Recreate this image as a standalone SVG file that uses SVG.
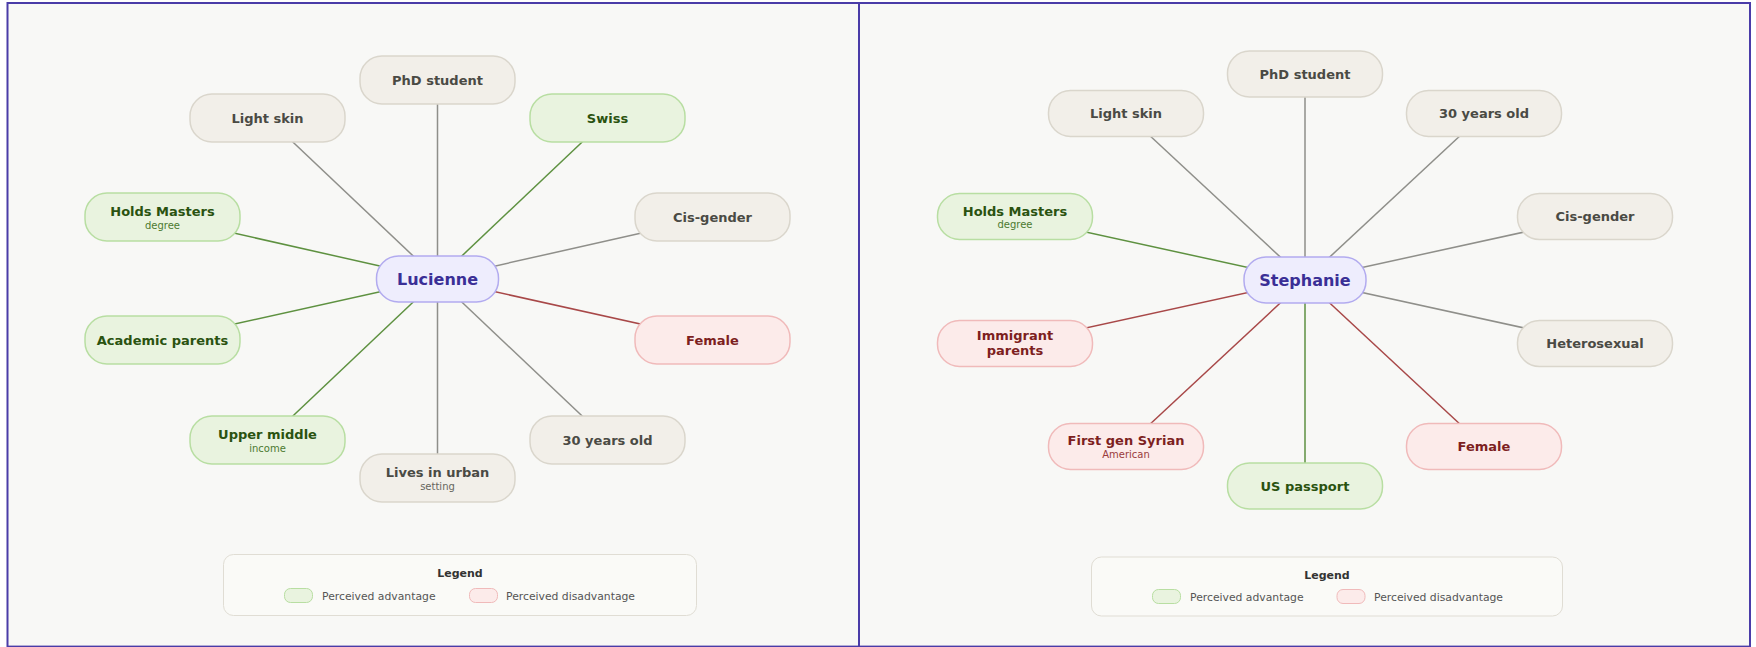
<svg xmlns="http://www.w3.org/2000/svg" width="1756" height="647" viewBox="0 0 1756 647">
<style>
.panel{fill:#f8f8f6;stroke:#4a3ca8;stroke-width:2}
.n rect{stroke-width:1.5}
.neu rect{fill:#f2efe9;stroke:#dad6cc}
.adv rect{fill:#e9f3df;stroke:#b8dea2}
.dis rect{fill:#fcebea;stroke:#f0baba}
.ctr rect{fill:#eeedfd;stroke:#b2abef}
text{font-family:"DejaVu Sans","Liberation Sans",sans-serif;text-anchor:middle}
.t{font-size:13px;font-weight:bold}
.s{font-size:10px}
.neu .t{fill:#4a4a44}.neu .s{fill:#66665e}
.adv .t{fill:#2a5210}.adv .s{fill:#4c7a30}
.dis .t{fill:#7d1f1f}.dis .s{fill:#9a3c3c}
.ctr .t{fill:#3a2f96;font-size:16px}
.c line{stroke-width:1.5}
.cg{stroke:#8f8f8a}.ca{stroke:#5e9140}.cd{stroke:#a84848}
.lg rect.box{fill:#fafaf7;stroke:#e0ddd4;stroke-width:1}
.lg .lt{font-size:11px;font-weight:bold;fill:#333}
.lg .li{font-size:10.8px;fill:#555;text-anchor:start}
.sw-a{fill:#e9f3df;stroke:#b8dea2;stroke-width:1}
.sw-d{fill:#fcebea;stroke:#f0baba;stroke-width:1}
</style>
<rect x="0" y="0" width="1756" height="647" fill="#ffffff"/>
<rect class="panel" x="7.5" y="3" width="851.5" height="643.6"/>
<rect class="panel" x="859" y="3" width="891" height="643.6"/>

<g id="connectors-left" class="c">
<line class="cg" x1="437.5" y1="279" x2="437.5" y2="80"/>
<line class="cg" x1="437.5" y1="279" x2="267.5" y2="118"/>
<line class="ca" x1="437.5" y1="279" x2="607.5" y2="118"/>
<line class="ca" x1="437.5" y1="279" x2="162.5" y2="217"/>
<line class="cg" x1="437.5" y1="279" x2="712.5" y2="217"/>
<line class="ca" x1="437.5" y1="279" x2="162.5" y2="340"/>
<line class="cd" x1="437.5" y1="279" x2="712.5" y2="340"/>
<line class="ca" x1="437.5" y1="279" x2="267.5" y2="440"/>
<line class="cg" x1="437.5" y1="279" x2="437.5" y2="478"/>
<line class="cg" x1="437.5" y1="279" x2="607.5" y2="440"/>
</g>
<g id="connectors-right" class="c">
<line class="cg" x1="1305" y1="280" x2="1305" y2="74"/>
<line class="cg" x1="1305" y1="280" x2="1126" y2="113.5"/>
<line class="cg" x1="1305" y1="280" x2="1484" y2="113.5"/>
<line class="ca" x1="1305" y1="280" x2="1015" y2="216.5"/>
<line class="cg" x1="1305" y1="280" x2="1595" y2="216.5"/>
<line class="cd" x1="1305" y1="280" x2="1015" y2="343.5"/>
<line class="cg" x1="1305" y1="280" x2="1595" y2="343.5"/>
<line class="cd" x1="1305" y1="280" x2="1126" y2="446.5"/>
<line class="ca" x1="1305" y1="280" x2="1305" y2="486"/>
<line class="cd" x1="1305" y1="280" x2="1484" y2="446.5"/>
</g>

<!-- Left panel nodes -->
<g id="L-center" class="n ctr"><rect x="376.5" y="256" width="122" height="46" rx="22"/><text class="t" x="437.5" y="284.5">Lucienne</text></g>
<g id="L-phd" class="n neu"><rect x="360" y="56" width="155" height="48" rx="22"/><text class="t" x="437.5" y="84.5">PhD student</text></g>
<g id="L-lightskin" class="n neu"><rect x="190" y="94" width="155" height="48" rx="22"/><text class="t" x="267.5" y="122.5">Light skin</text></g>
<g id="L-swiss" class="n adv"><rect x="530" y="94" width="155" height="48" rx="22"/><text class="t" x="607.5" y="122.5">Swiss</text></g>
<g id="L-masters" class="n adv"><rect x="85" y="193" width="155" height="48" rx="22"/><text class="t" x="162.5" y="216">Holds Masters</text><text class="s" x="162.5" y="228.5">degree</text></g>
<g id="L-cis" class="n neu"><rect x="635" y="193" width="155" height="48" rx="22"/><text class="t" x="712.5" y="221.5">Cis-gender</text></g>
<g id="L-academic" class="n adv"><rect x="85" y="316" width="155" height="48" rx="22"/><text class="t" x="162.5" y="344.5">Academic parents</text></g>
<g id="L-female" class="n dis"><rect x="635" y="316" width="155" height="48" rx="22"/><text class="t" x="712.5" y="344.5">Female</text></g>
<g id="L-uppermiddle" class="n adv"><rect x="190" y="416" width="155" height="48" rx="22"/><text class="t" x="267.5" y="439">Upper middle</text><text class="s" x="267.5" y="451.5">income</text></g>
<g id="L-urban" class="n neu"><rect x="360" y="454" width="155" height="48" rx="22"/><text class="t" x="437.5" y="477">Lives in urban</text><text class="s" x="437.5" y="489.5">setting</text></g>
<g id="L-30" class="n neu"><rect x="530" y="416" width="155" height="48" rx="22"/><text class="t" x="607.5" y="444.5">30 years old</text></g>

<!-- Right panel nodes -->
<g id="R-center" class="n ctr"><rect x="1244" y="257" width="122" height="46" rx="22"/><text class="t" x="1305" y="285.5">Stephanie</text></g>
<g id="R-phd" class="n neu"><rect x="1227.5" y="51" width="155" height="46" rx="22"/><text class="t" x="1305" y="78.5">PhD student</text></g>
<g id="R-lightskin" class="n neu"><rect x="1048.5" y="90.5" width="155" height="46" rx="22"/><text class="t" x="1126" y="118">Light skin</text></g>
<g id="R-30" class="n neu"><rect x="1406.5" y="90.5" width="155" height="46" rx="22"/><text class="t" x="1484" y="118">30 years old</text></g>
<g id="R-masters" class="n adv"><rect x="937.5" y="193.5" width="155" height="46" rx="22"/><text class="t" x="1015" y="215.5">Holds Masters</text><text class="s" x="1015" y="228">degree</text></g>
<g id="R-cis" class="n neu"><rect x="1517.5" y="193.5" width="155" height="46" rx="22"/><text class="t" x="1595" y="221">Cis-gender</text></g>
<g id="R-immigrant" class="n dis"><rect x="937.5" y="320.5" width="155" height="46" rx="22"/><text class="t" x="1015" y="339.5">Immigrant</text><text class="t" x="1015" y="355">parents</text></g>
<g id="R-hetero" class="n neu"><rect x="1517.5" y="320.5" width="155" height="46" rx="22"/><text class="t" x="1595" y="348">Heterosexual</text></g>
<g id="R-syrian" class="n dis"><rect x="1048.5" y="423.5" width="155" height="46" rx="22"/><text class="t" x="1126" y="445">First gen Syrian</text><text class="s" x="1126" y="457.5">American</text></g>
<g id="R-passport" class="n adv"><rect x="1227.5" y="463" width="155" height="46" rx="22"/><text class="t" x="1305" y="490.5">US passport</text></g>
<g id="R-female" class="n dis"><rect x="1406.5" y="423.5" width="155" height="46" rx="22"/><text class="t" x="1484" y="451">Female</text></g>

<!-- Legends -->
<g id="L-legend" class="lg">
<rect class="box" x="223.5" y="554.5" width="473" height="61" rx="10"/>
<text class="lt" x="460" y="577">Legend</text>
<rect class="sw-a" x="284.5" y="588.5" width="28" height="14" rx="6"/>
<text class="li" x="322" y="600">Perceived advantage</text>
<rect class="sw-d" x="469.5" y="588.5" width="28" height="14" rx="6"/>
<text class="li" x="506" y="600">Perceived disadvantage</text>
</g>
<g id="R-legend" class="lg">
<rect class="box" x="1091.5" y="557" width="471" height="59" rx="10"/>
<text class="lt" x="1327" y="579">Legend</text>
<rect class="sw-a" x="1152.5" y="589.5" width="28" height="14" rx="6"/>
<text class="li" x="1190" y="601">Perceived advantage</text>
<rect class="sw-d" x="1337" y="589.5" width="28" height="14" rx="6"/>
<text class="li" x="1374" y="601">Perceived disadvantage</text>
</g>
</svg>
